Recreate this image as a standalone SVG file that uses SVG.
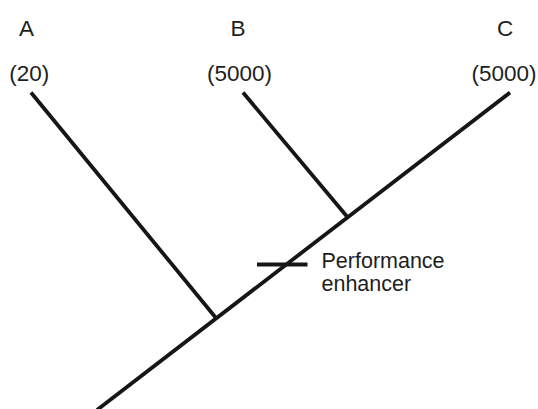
<svg xmlns="http://www.w3.org/2000/svg" width="538" height="409" viewBox="0 0 538 409">
  <style>
    .branch { stroke: #161616; stroke-width: 3.8; stroke-linecap: butt; fill: none; }
    .label { font-family: "Liberation Sans", Arial, Helvetica, sans-serif; font-size: 22.5px; fill: #1e1e1e; text-anchor: middle; }
    .note { font-family: "Liberation Sans", Arial, Helvetica, sans-serif; font-size: 21.5px; fill: #1e1e1e; }
  </style>
  <rect width="538" height="409" fill="#ffffff"/>

  <!-- tree branches -->
  <g id="connectors">
    <line class="branch" x1="97" y1="410" x2="510" y2="92.5"/>
    <line class="branch" x1="31" y1="92.5" x2="216" y2="318"/>
    <line class="branch" x1="243" y1="92.5" x2="347" y2="216.5"/>
    <line class="branch" x1="257" y1="264.5" x2="307.5" y2="264.5"/>
  </g>

  <g id="taxon-a">
    <text class="label" x="26.5" y="36">A</text>
    <text class="label" x="29.3" y="81">(20)</text>
  </g>
  <g id="taxon-b">
    <text class="label" x="238" y="36">B</text>
    <text class="label" x="239.5" y="81">(5000)</text>
  </g>
  <g id="taxon-c">
    <text class="label" x="505" y="36">C</text>
    <text class="label" x="504" y="81">(5000)</text>
  </g>
  <g id="enhancer-label">
    <text class="note" x="321.5" y="267.5">Performance</text>
    <text class="note" x="321.5" y="291">enhancer</text>
  </g>
</svg>
